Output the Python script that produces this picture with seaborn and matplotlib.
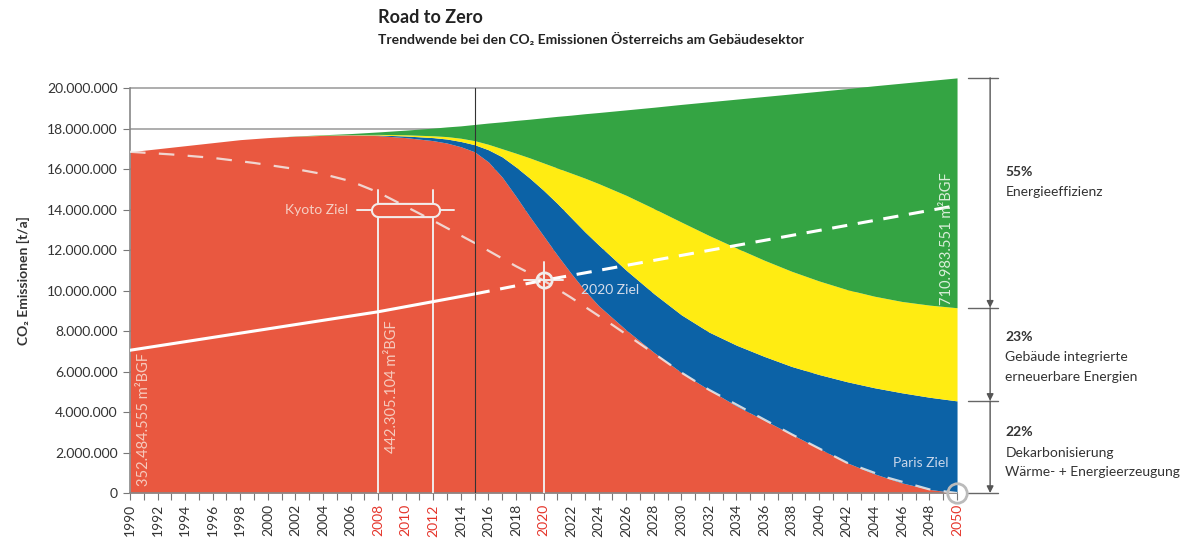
import numpy as np
import matplotlib
matplotlib.use("Agg")
import matplotlib.pyplot as plt
import seaborn as sns
from matplotlib.ticker import FuncFormatter, MultipleLocator

# Stuetzstellen (Jahre) fuer die Flaechen
years = [1990, 1992, 1994, 1996, 1998, 2000, 2002, 2004, 2006, 2008, 2010, 2012, 2013,
         2014, 2015, 2016, 2017, 2018, 2019, 2020, 2021, 2022, 2023, 2024, 2026, 2028,
         2030, 2032, 2034, 2036, 2038, 2040, 2042, 2044, 2046, 2048, 2050]

# Obergrenzen der Schichten (Mio t/a, kumuliert)
red_top = [16.85, 17.0, 17.15, 17.3, 17.45, 17.55, 17.62, 17.66, 17.68, 17.65, 17.55, 17.4, 17.28,
           17.1, 16.85, 16.35, 15.6, 14.65, 13.65, 12.7, 11.75, 10.85, 10.0, 9.25, 8.05, 6.95,
           5.95, 5.1, 4.3, 3.6, 2.9, 2.2, 1.5, 0.95, 0.5, 0.18, 0.0]
blue_top = [16.85, 17.0, 17.15, 17.3, 17.45, 17.55, 17.62, 17.66, 17.69, 17.68, 17.63, 17.55, 17.48,
            17.36, 17.2, 16.95, 16.6, 16.1, 15.55, 14.95, 14.3, 13.6, 12.9, 12.25, 11.0, 9.85,
            8.8, 7.95, 7.3, 6.75, 6.25, 5.85, 5.5, 5.2, 4.95, 4.73, 4.55]
yellow_top = [16.85, 17.0, 17.15, 17.3, 17.45, 17.55, 17.62, 17.67, 17.7, 17.71, 17.69, 17.64, 17.6,
              17.52, 17.4, 17.22, 17.0, 16.78, 16.55, 16.3, 16.05, 15.8, 15.55, 15.28, 14.7, 14.05,
              13.38, 12.72, 12.1, 11.5, 10.95, 10.47, 10.05, 9.72, 9.46, 9.28, 9.15]
green_top = [16.85, 17.0, 17.15, 17.3, 17.45, 17.55, 17.63, 17.69, 17.75, 17.83, 17.92, 18.02, 18.08,
             18.13, 18.2, 18.27, 18.33, 18.4, 18.46, 18.53, 18.6, 18.66, 18.73, 18.79, 18.92, 19.05,
             19.19, 19.32, 19.45, 19.58, 19.71, 19.84, 19.97, 20.11, 20.24, 20.37, 20.5]

# Zielpfad (Kyoto -> 2020 -> Paris), gestrichelt
path_years = [1990, 1993, 1996, 1999, 2002, 2004, 2006, 2008, 2010, 2012, 2015, 2018, 2020,
              2022, 2025, 2028, 2030, 2032, 2035, 2038, 2040, 2042, 2045, 2048, 2050]
path_vals = [16.85, 16.72, 16.55, 16.3, 16.0, 15.75, 15.4, 14.85, 14.15, 13.45, 12.35, 11.2, 10.5,
             9.65, 8.3, 6.9, 5.95, 5.1, 4.0, 2.9, 2.2, 1.5, 0.75, 0.18, 0.0]

# Bruttogeschossflaeche (skaliert), bis 2015 durchgezogen, danach gestrichelt
bgf_years = [1990, 2008, 2015, 2020, 2050]
bgf_vals = [7.05, 8.95, 9.83, 10.5, 14.2]

kyoto_years = [2008, 2012]
kyoto_val = 14.0
ziel2020 = (2020, 10.5)

red_years = [2008, 2010, 2012, 2020, 2050]
shares = [("55%", ["Energieeffizienz"]),
          ("23%", ["Gebäude integrierte", "erneuerbare Energien"]),
          ("22%", ["Dekarbonisierung", "Wärme- + Energieerzeugung"])]

M = 1e6
C_RED = "#E95840"
C_BLUE = "#0C62A6"
C_YEL = "#FFEC12"
C_GREEN = "#34A443"
C_WHITE = "#F2ECEA"
C_TXT = "#333333"

sns.set_theme(style="white")
plt.rcParams["font.family"] = ["Lato", "DejaVu Sans"]

fig = plt.figure(figsize=(11.96, 5.39), dpi=100)
ax = fig.add_axes([0.1087, 0.0853, 0.8002 - 0.1087, 0.789])

yrs = np.array(years)
red = np.array(red_top) * M
blue = np.array(blue_top) * M
yel = np.array(yellow_top) * M
grn = np.array(green_top) * M

ax.fill_between(yrs, 0, red, color=C_RED, lw=0, zorder=2)
ax.fill_between(yrs, red, blue, color=C_BLUE, lw=0, zorder=2)
ax.fill_between(yrs, blue, yel, color=C_YEL, lw=0, zorder=2)
ax.fill_between(yrs, yel, grn, color=C_GREEN, lw=0, zorder=2)

# Zielpfad
sns.lineplot(x=path_years, y=np.array(path_vals) * M, ax=ax, color=C_WHITE, lw=1.6,
             zorder=5, alpha=0.85, linestyle=(0, (7, 6)))

# BGF Linie
solid = [(y, v) for y, v in zip(bgf_years, bgf_vals) if y <= 2015]
dashed = [(y, v) for y, v in zip(bgf_years, bgf_vals) if y >= 2015]
sns.lineplot(x=[p[0] for p in solid], y=[p[1] * M for p in solid], ax=ax,
             color="white", lw=2.2, zorder=5)
sns.lineplot(x=[p[0] for p in dashed], y=[p[1] * M for p in dashed], ax=ax,
             color="white", lw=2.2, zorder=5, linestyle=(0, (5, 3.5)))

# Kyoto Ziel Markierung
for ky in kyoto_years:
    ax.plot([ky, ky], [0, (kyoto_val + 0.95) * M], color=C_WHITE, lw=1.4, zorder=4)
ax.plot([kyoto_years[0] - 1.5, kyoto_years[1] + 1.5], [kyoto_val * M] * 2,
        color=C_WHITE, lw=1.4, zorder=4)
ax.plot(kyoto_years, [kyoto_val * M] * 2, color=C_WHITE, lw=11,
        solid_capstyle="round", zorder=4)
ax.plot(kyoto_years, [kyoto_val * M] * 2, color=C_RED, lw=8,
        solid_capstyle="round", zorder=4)
ax.text(kyoto_years[0] - 2.2, kyoto_val * M, "Kyoto Ziel", color="#F5CFC4",
        fontsize=10, ha="right", va="center", zorder=6)

# 2020 Ziel Markierung
zx, zy = ziel2020
ax.plot([zx, zx], [0, zy * M + 0.9 * M], color=C_WHITE, lw=1.4, zorder=4)
ax.plot([zx - 1.4, zx + 1.4], [zy * M] * 2, color=C_WHITE, lw=1.4, zorder=4)
ax.plot([zx], [zy * M], marker="o", ms=11, mfc="none", mec=C_WHITE, mew=2, zorder=6)
ax.text(zx + 2.7, zy * M - 0.45 * M, "2020 Ziel", color="#D5DCEA", fontsize=10,
        ha="left", va="center", zorder=6)

ax.text(2049.4, 1.48 * M, "Paris Ziel", color="#C8D6EA", fontsize=10,
        ha="right", va="center", zorder=6)
ax.plot([2050], [0], marker="o", ms=14, mfc="none", mec="#BBBBBB", mew=2,
        clip_on=False, zorder=7)

# BGF Beschriftungen
ax.text(1991.0, 0.35 * M, "352.484.555 m²BGF", rotation=90, color="#F6CBBE",
        fontsize=10.5, ha="center", va="bottom", zorder=6)
ax.text(2009.0, 2.0 * M, "442.305.104 m²BGF", rotation=90, color="#F6CBBE",
        fontsize=10.5, ha="center", va="bottom", zorder=6)
ax.text(2049.3, 9.3 * M, "710.983.551 m²BGF", rotation=90, color="#D9EED9",
        fontsize=10.5, ha="center", va="bottom", zorder=6)

# 2015 Trennlinie
ax.plot([2015, 2015], [0, 20 * M], color="#333333", lw=0.8, zorder=6)

# Achsen
ax.set_xlim(1990, 2050)
ax.set_ylim(0, 21 * M)
ax.set_yticks(np.arange(0, 20.1 * M, 2 * M))
ax.yaxis.set_major_formatter(FuncFormatter(lambda v, p: f"{int(round(v)):,}".replace(",", ".")))
ax.xaxis.set_major_locator(MultipleLocator(2))
ax.xaxis.set_minor_locator(MultipleLocator(1))
ax.xaxis.set_major_formatter(FuncFormatter(lambda v, p: f"{int(round(v))}"))
ax.tick_params(axis="x", which="both", direction="out", length=5, width=0.8,
               color="#777777", bottom=True, labelsize=10, labelcolor=C_TXT,
               labelrotation=90, pad=3)
ax.tick_params(axis="y", direction="out", length=5, width=0.8, color="#777777",
               left=True, labelsize=10, labelcolor=C_TXT, pad=4)
for lab in ax.get_xticklabels():
    if lab.get_text() and int(lab.get_text()) in red_years:
        lab.set_color("#E5352B")
ax.grid(axis="y", color="#A0A0A0", lw=1.2, zorder=0)
ax.grid(axis="x", visible=False)
ax.set_axisbelow(True)
sns.despine(ax=ax, top=True, right=True)
for s in ["left", "bottom"]:
    ax.spines[s].set_color("#888888")
    ax.spines[s].set_linewidth(1.2)
ax.spines["left"].set_bounds(0, 20 * M)
ax.set_xlabel("")
ax.set_ylabel("CO₂ Emissionen [t/a]", fontsize=10, fontweight="bold", color=C_TXT, labelpad=12)

# Anteile rechts
bx = 2052.4
levels = [green_top[-1], yellow_top[-1], blue_top[-1], 0.0]
for lv in levels:
    ax.plot([2050.8, 2053.0], [lv * M] * 2, color="#666666", lw=1, clip_on=False)
for top, bot in zip(levels[:-1], levels[1:]):
    ax.annotate("", xy=(bx, bot * M), xytext=(bx, top * M), annotation_clip=False,
                arrowprops=dict(arrowstyle="-|>", color="#555555", lw=1,
                                mutation_scale=10, shrinkA=0, shrinkB=0))
text_y = [15.85, 7.7, 3.0]
for (pct, lines), ty in zip(shares, text_y):
    ax.text(2053.5, ty * M, pct, fontsize=10, fontweight="bold", color=C_TXT,
            ha="left", va="center", clip_on=False)
    for i, ln in enumerate(lines):
        ax.text(2053.5, (ty - 1.0 - 0.97 * i) * M, ln, fontsize=10, color=C_TXT,
                ha="left", va="center", clip_on=False)

fig.text(0.316, 0.967, "Road to Zero", fontsize=13, fontweight="bold", color="#222222",
         ha="left", va="center")
fig.text(0.316, 0.926, "Trendwende bei den CO₂ Emissionen Österreichs am Gebäudesektor",
         fontsize=10, fontweight="bold", color="#222222", ha="left", va="center")

fig.savefig("out.png", dpi=100)
